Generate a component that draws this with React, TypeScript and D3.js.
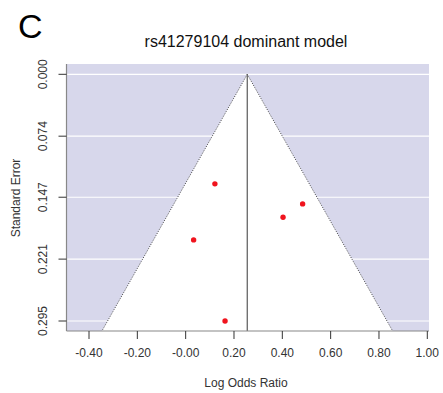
import React, { useEffect, useRef } from 'react';
import * as d3 from 'd3';

// study estimates
const logOdds = [0.121, 0.484, 0.403, 0.033, 0.163];
const stdErr = [0.131, 0.155, 0.171, 0.198, 0.295];
const pooled = 0.255;

const xTicks = [-0.4, -0.2, 0, 0.2, 0.4, 0.6, 0.8, 1.0];
const xTickLabels = ['-0.40', '-0.20', '-0.00', '0.20', '0.40', '0.60', '0.80', '1.00'];
const yTicks = [0, 0.074, 0.147, 0.221, 0.295];
const yTickLabels = ['0.000', '0.074', '0.147', '0.221', '0.295'];

const font = 'Liberation Sans, Arial, sans-serif';

const App = () => {
  const svgRef = useRef<SVGSVGElement>(null);

  useEffect(() => {
    const svg = d3.select(svgRef.current);
    svg.selectAll('*').remove();

    const x = d3.scaleLinear().domain([-0.4, 1.0]).range([89, 427.3]);
    const y = d3.scaleLinear().domain([0, 0.295]).range([74.3, 321]);

    const xMin = x.invert(66.5);
    const xMax = x.invert(429);
    const yMin = y.invert(64);
    const yMax = y.invert(331);

    // background
    svg.append('rect')
      .attr('x', x(xMin)).attr('y', y(yMin))
      .attr('width', x(xMax) - x(xMin)).attr('height', y(yMax) - y(yMin))
      .attr('fill', '#d7d7eb');

    // horizontal white grid lines
    svg.append('g').selectAll('line')
      .data(yTicks)
      .join('line')
      .attr('x1', x(xMin)).attr('x2', x(xMax))
      .attr('y1', d => y(d)).attr('y2', d => y(d))
      .attr('stroke', '#fff').attr('stroke-width', 1.2);

    // funnel (pseudo confidence region)
    const funnel: [number, number][] = [
      [pooled, 0],
      [pooled - 1.96 * yMax, yMax],
      [pooled + 1.96 * yMax, yMax],
    ];
    svg.append('path')
      .attr('d', d3.line<[number, number]>().x(d => x(d[0])).y(d => y(d[1]))(funnel) + 'Z')
      .attr('fill', '#fff');

    // dotted funnel edges
    [[funnel[0], funnel[1]], [funnel[0], funnel[2]]].forEach(seg => {
      svg.append('line')
        .attr('x1', x(seg[0][0])).attr('y1', y(seg[0][1]))
        .attr('x2', x(seg[1][0])).attr('y2', y(seg[1][1]))
        .attr('stroke', '#444').attr('stroke-width', 1)
        .attr('stroke-dasharray', '1,1.5');
    });

    // vertical line at pooled estimate
    svg.append('line')
      .attr('x1', x(pooled)).attr('x2', x(pooled))
      .attr('y1', y(0)).attr('y2', y(yMax))
      .attr('stroke', '#666').attr('stroke-width', 1.3);

    // points
    svg.append('g').selectAll('circle')
      .data(logOdds.map((d, i) => ({ lor: d, se: stdErr[i] })))
      .join('circle')
      .attr('cx', d => x(d.lor)).attr('cy', d => y(d.se))
      .attr('r', 2.7)
      .attr('fill', '#f0141e');

    // axes frame lines (left and bottom)
    svg.append('line')
      .attr('x1', x(xMin)).attr('x2', x(xMin))
      .attr('y1', y(yMin)).attr('y2', y(yMax))
      .attr('stroke', '#888').attr('stroke-width', 1.2);
    svg.append('line')
      .attr('x1', x(xMin)).attr('x2', x(xMax))
      .attr('y1', y(yMax)).attr('y2', y(yMax))
      .attr('stroke', '#888').attr('stroke-width', 1.2);

    // y ticks
    const yg = svg.append('g');
    yg.selectAll('line')
      .data(yTicks)
      .join('line')
      .attr('x1', x(xMin) - 8).attr('x2', x(xMin))
      .attr('y1', d => y(d)).attr('y2', d => y(d))
      .attr('stroke', '#333');
    yg.selectAll('text')
      .data(yTicks)
      .join('text')
      .attr('transform', d => `translate(47,${y(d)}) rotate(-90)`)
      .attr('text-anchor', 'middle')
      .attr('font-family', font).attr('font-size', 12).attr('fill', '#333')
      .text((d, i) => yTickLabels[i]);

    // x ticks
    const xg = svg.append('g');
    xg.selectAll('line')
      .data(xTicks)
      .join('line')
      .attr('x1', d => x(d)).attr('x2', d => x(d))
      .attr('y1', y(yMax)).attr('y2', y(yMax) + 8)
      .attr('stroke', '#333');
    xg.selectAll('text')
      .data(xTicks)
      .join('text')
      .attr('x', d => x(d)).attr('y', 357)
      .attr('text-anchor', 'middle')
      .attr('font-family', font).attr('font-size', 12).attr('fill', '#333')
      .text((d, i) => xTickLabels[i]);

    // axis titles
    svg.append('text')
      .attr('x', 246).attr('y', 387)
      .attr('text-anchor', 'middle')
      .attr('font-family', font).attr('font-size', 12).attr('fill', '#333')
      .text('Log Odds Ratio');
    svg.append('text')
      .attr('transform', 'translate(20,198) rotate(-90)')
      .attr('text-anchor', 'middle')
      .attr('font-family', font).attr('font-size', 12).attr('fill', '#333')
      .text('Standard Error');

    // title and panel letter
    svg.append('text')
      .attr('x', 246).attr('y', 47)
      .attr('text-anchor', 'middle')
      .attr('font-family', font).attr('font-size', 16).attr('fill', '#111')
      .text('rs41279104 dominant model');
    svg.append('text')
      .attr('x', 18).attr('y', 38)
      .attr('font-family', font).attr('font-size', 34).attr('fill', '#000')
      .text('C');
  }, []);

  return (
    <div style={{ position: 'absolute', left: 0, top: 0 }}>
      <svg ref={svgRef} width={443} height={393} style={{ display: 'block', background: '#fff' }} />
    </div>
  );
};

export default App;
